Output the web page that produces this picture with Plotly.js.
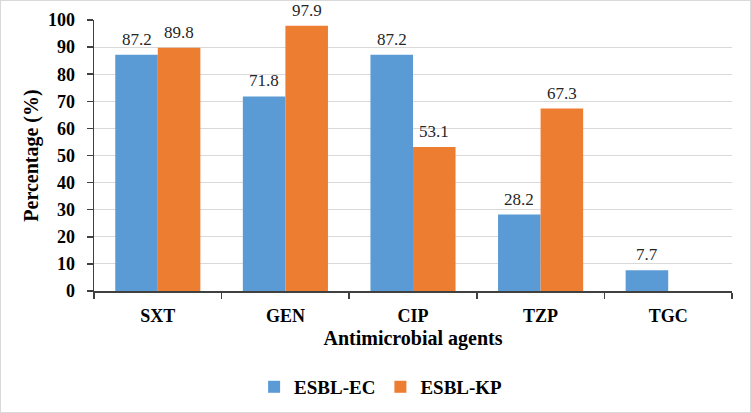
<!DOCTYPE html>
<html>
<head>
<meta charset="utf-8">
<script src="https://cdn.plot.ly/plotly-3.0.1.min.js"></script>
<style>
  html, body { margin: 0; padding: 0; background: #fff; }
  #wrap { position: relative; width: 751px; height: 413px; }
  #chart { width: 751px; height: 413px; }
  #frame { position: absolute; left: 0; top: 0; width: 751px; height: 413px;
           box-sizing: border-box; border: 1px solid #d9d9d9; pointer-events: none; }
</style>
</head>
<body>
<div id="wrap">
  <div id="chart"></div>
  <div id="frame"></div>
</div>
<script>
// Resistance rates by antimicrobial agent
const agents = ["SXT", "GEN", "CIP", "TZP", "TGC"];
const esblEC = [87.2, 71.8, 87.2, 28.2, 7.7];
const esblKP = [89.8, 97.9, 53.1, 67.3, null];
const seriesNames = ["ESBL-EC", "ESBL-KP"];
const yTicks = [0, 10, 20, 30, 40, 50, 60, 70, 80, 90, 100];

const serif = "Liberation Serif, Times New Roman, serif";
const colors = ["#5b9bd5", "#ed7d31"];

const W = 751, H = 413;
const margin = { l: 94, r: 19, t: 20, b: 122, autoexpand: false };
const bargap = 0.333;

const traces = [esblEC, esblKP].map((vals, i) => ({
  type: "bar", name: seriesNames[i], x: agents, y: vals,
  marker: { color: colors[i] },
  hoverinfo: "x+y"
}));

// Value labels sit above each bar; the horizontal shift is half a bar width
const catWidth = (W - margin.l - margin.r) / agents.length;
const barWidth = catWidth * (1 - bargap) / 2;
const annotations = [];
[esblEC, esblKP].forEach((vals, i) => {
  vals.forEach((v, j) => {
    if (v === null) return;
    annotations.push({
      x: agents[j], y: v, xref: "x", yref: "y",
      text: v.toFixed(1), showarrow: false,
      xanchor: "center", yanchor: "bottom", borderpad: 0,
      xshift: (i === 0 ? -1 : 1) * barWidth / 2, yshift: 5,
      font: { family: serif, size: 17, color: "#262626" }
    });
  });
});

const layout = {
  width: W, height: H,
  margin: margin,
  paper_bgcolor: "#ffffff", plot_bgcolor: "#ffffff",
  font: { family: serif, color: "#000" },
  barmode: "group", bargap: bargap, bargroupgap: 0,
  showlegend: true,
  legend: {
    orientation: "h", x: 0.45, xanchor: "center", y: -0.354, yanchor: "middle",
    font: { family: serif, size: 19, color: "#000", weight: "bold" },
    itemwidth: 30, traceorder: "normal"
  },
  annotations: annotations,
  xaxis: {
    type: "category",
    showline: true, linecolor: "#404040", linewidth: 1.5,
    ticks: "outside", tickson: "boundaries", ticklen: 6, tickcolor: "#404040", tickwidth: 1.5,
    ticklabelstandoff: 8,
    tickfont: { family: serif, size: 18, color: "#000", weight: "bold" },
    title: { text: "Antimicrobial agents", standoff: 6,
             font: { family: serif, size: 20, color: "#000", weight: "bold" } },
    showgrid: false, zeroline: false, fixedrange: true
  },
  yaxis: {
    range: [0, 100], tickvals: yTicks,
    showline: true, linecolor: "#404040", linewidth: 1.5,
    ticks: "outside", ticklen: 6, tickcolor: "#404040", tickwidth: 1.5,
    ticklabelstandoff: 8,
    tickfont: { family: serif, size: 18, color: "#000", weight: "bold" },
    showgrid: true, gridcolor: "#d9d9d9", gridwidth: 1,
    zeroline: false,
    title: { text: "Percentage (%)", standoff: 4,
             font: { family: serif, size: 20, color: "#000", weight: "bold" } },
    fixedrange: true
  }
};

Plotly.newPlot("chart", traces, layout, { displayModeBar: false, staticPlot: true });
</script>
</body>
</html>
